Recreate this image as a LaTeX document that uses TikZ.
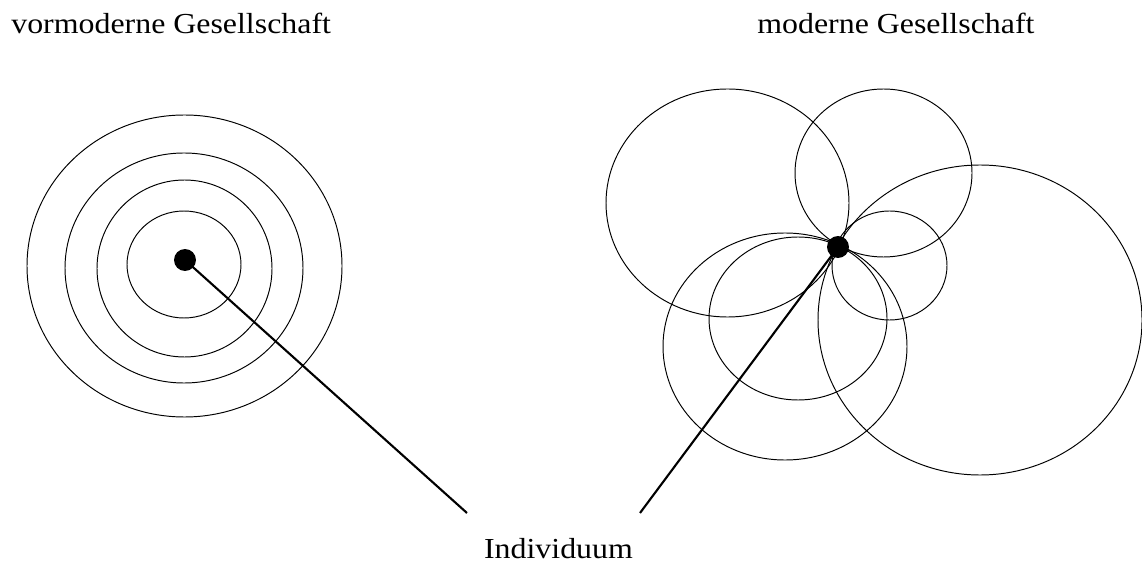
\documentclass[tikz,border=0pt]{standalone}
\usepackage{fontspec}
\setmainfont{Liberation Serif}[FakeStretch=1.1]
\usepackage{tikz}
\usetikzlibrary{arrows.meta}

\begin{document}
\begin{tikzpicture}[x=0.02cm, y=-0.02cm,
  every node/.style={font=\fontsize{16.5}{19}\selectfont, inner sep=0pt},
  ring/.style={line width=0.55pt},
  link/.style={line width=1.2pt},
  dot/.style={circle, fill=black, minimum size=12.5pt}]
\useasboundingbox (0,0) rectangle (1142,567);

% Titles
\node[anchor=base west] (tpre) at (11,34) {vormoderne Gesellschaft};
\node[anchor=base west] (tmod) at (757,34) {moderne Gesellschaft};
\node[anchor=base] (indiv) at (558.5,558) {Individuum};

% Concentric circles (vormodern)
\draw[ring] (184.5,266) ellipse [x radius=157.5, y radius=151];
\draw[ring] (184,268) ellipse [x radius=119, y radius=115];
\draw[ring] (184.5,268.5) ellipse [x radius=87.5, y radius=88.5];
\draw[ring] (184,264.5) ellipse [x radius=57, y radius=53.5];

% Overlapping circles (modern)
\draw[ring] (727.5,203) ellipse [x radius=121.5, y radius=114];
\draw[ring] (883.5,173) ellipse [x radius=88.5, y radius=84];
\draw[ring] (980,320) ellipse [x radius=162, y radius=155];
\draw[ring] (889.5,265.5) ellipse [x radius=57.5, y radius=54.5];
\draw[ring] (785,346.5) ellipse [x radius=122, y radius=113.5];
\draw[ring] (798,318.5) ellipse [x radius=89, y radius=81.5];

% Individuals
\node[dot] (ipre) at (185,260) {};
\node[dot] (imod) at (838,247) {};

% Pointer lines
\coordinate (epre) at (467,513);
\coordinate (emod) at (640,513);
\draw[link] (ipre.center) -- (epre);
\draw[link] (imod.center) -- (emod);
\end{tikzpicture}
\end{document}
